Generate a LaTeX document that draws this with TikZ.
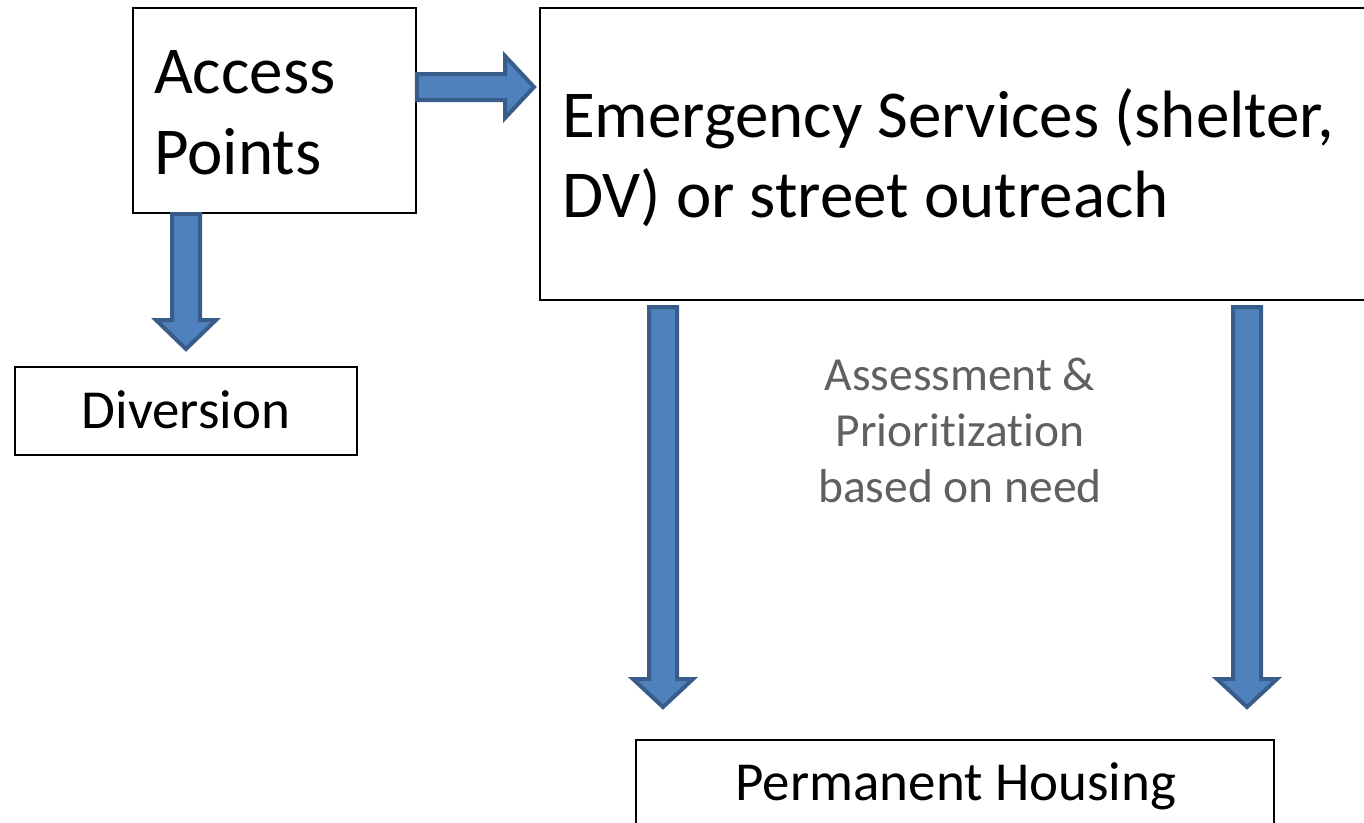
\documentclass[tikz,border=0pt]{standalone}
\usepackage{fontspec}
\setmainfont[Ligatures=NoCommon]{Carlito}
\definecolor{arrfill}{HTML}{4F81BD}
\definecolor{arrline}{HTML}{385D8A}
\definecolor{notegray}{HTML}{606060}
\tikzset{
  box/.style={draw=black, line width=1.6pt, fill=white, rectangle, inner sep=0pt},
  big/.style={font=\fontsize{67}{80}\selectfont, inner sep=0pt},
  mid/.style={font=\fontsize{55}{66}\selectfont, inner sep=0pt},
  note/.style={font=\fontsize{47.5}{56}\selectfont, inner sep=0pt, text=notegray},
  blockarrow/.style={fill=arrfill, draw=arrline, line width=4pt, line join=miter}
}
\begin{document}
\begin{tikzpicture}[x=1pt, y=-1pt]
\useasboundingbox (0,0) rectangle (1364,822);
\clip (0,0) rectangle (1364,822);
% boxes
\node[box, minimum width=283pt, minimum height=205pt] (access) at (274.5,110.5) {};
\node[box, minimum width=850pt, minimum height=292pt] (emerg) at (965,154) {};
\node[box, minimum width=342pt, minimum height=88pt] (divers) at (186,411) {};
\node[box, minimum width=638pt, minimum height=110pt] (perm) at (955,795) {};
% texts
\node[big, anchor=base west] (t1) at (154,93) {Access};
\node[big, anchor=base west] (t2) at (154,174) {Points};
\node[big, anchor=base west] (t3) at (562,137) {Emergency Services (shelter,};
\node[big, anchor=base west] (t4) at (562,217) {DV) or street outreach};
\node[mid, anchor=base] (t5) at (186,428) {Diversion};
\node[mid, anchor=base] (t6) at (956,800) {Permanent Housing};
\node[note, anchor=base] (n1) at (960,390) {Assessment \&};
\node[note, anchor=base] (n2) at (960,446) {Prioritization};
\node[note, anchor=base] (n3) at (960,502) {based on need};
% block arrows
\draw[blockarrow] (access.east |- 0,74) -- (505,74) -- (505,56) -- (534,87) -- (505,118) -- (505,100) -- (access.east |- 0,100) -- cycle;
\draw[blockarrow] (172,214) -- (200,214) -- (200,320) -- (216,320) -- (186,349) -- (156,320) -- (172,320) -- cycle;
\draw[blockarrow] (649,307) -- (677,307) -- (677,679) -- (693,679) -- (663,707) -- (633,679) -- (649,679) -- cycle;
\draw[blockarrow] (1233,307) -- (1261,307) -- (1261,679) -- (1277,679) -- (1247,707) -- (1217,679) -- (1233,679) -- cycle;
\end{tikzpicture}
\end{document}
